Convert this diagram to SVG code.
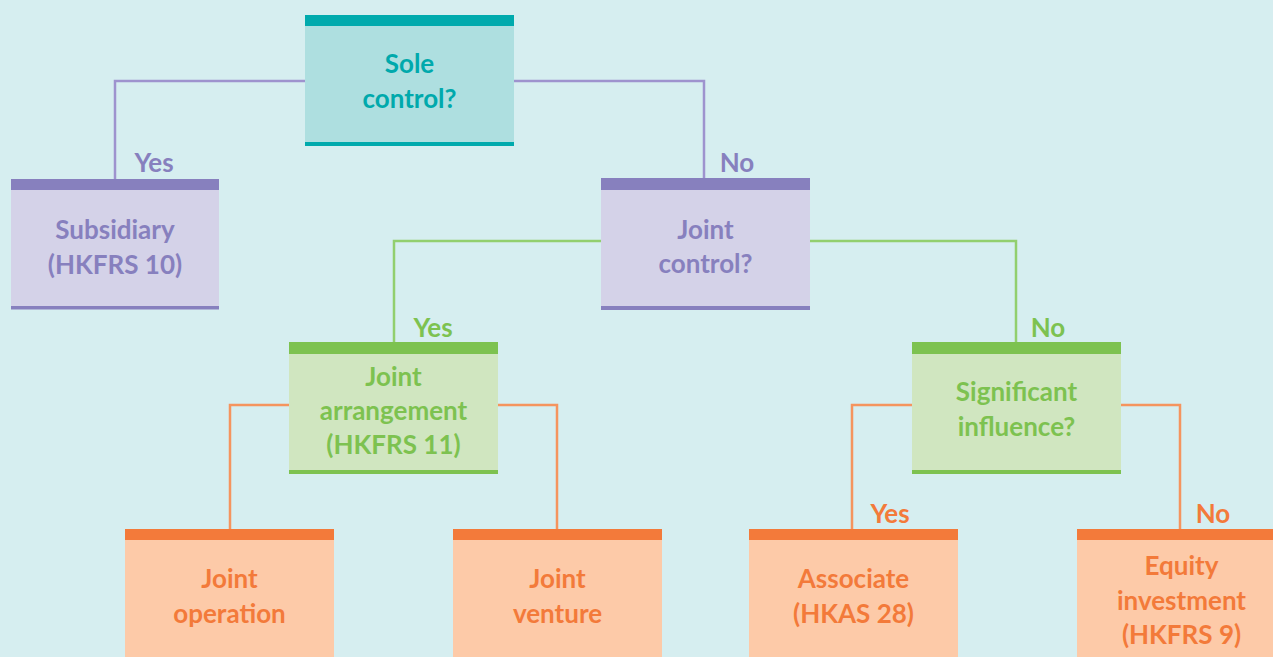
<svg xmlns="http://www.w3.org/2000/svg" width="1273" height="657" viewBox="0 0 1273 657">
<style>
text{font-family:Lato,"Open Sans","Liberation Sans",sans-serif;font-weight:700;font-size:26px;text-anchor:middle}
.tl{fill:#00A9AC}.pl{fill:#8780BE}.gl{fill:#7DC250}.ol{fill:#F37A3A}
.tf{fill:#AEDFE0}.pf{fill:#D4D2E8}.gf{fill:#D0E6C0}.of{fill:#FDCAA8}
.tb{fill:#00AAAD}.pb{fill:#8780BE}.gb{fill:#7DC250}.ob{fill:#F37A3A}
.cp{fill:none;stroke:#9E93CE;stroke-width:2.5}
.cg{fill:none;stroke:#92CF6E;stroke-width:2.5}
.co{fill:none;stroke:#F5945E;stroke-width:2.5}
</style>
<rect width="1273" height="657" fill="#D6EEF0"/>
<g id="connectors">
<polyline class="cp" points="305,81 115,81 115,179"/>
<polyline class="cp" points="514,81 704,81 704,179"/>
<polyline class="cg" points="601,241 394,241 394,342"/>
<polyline class="cg" points="810,241 1016,241 1016,342"/>
<polyline class="co" points="289,405 230,405 230,529"/>
<polyline class="co" points="498,405 557,405 557,529"/>
<polyline class="co" points="912,405 852,405 852,529"/>
<polyline class="co" points="1121,405 1180,405 1180,529"/>
<text class="pl" x="154" y="172">Yes</text>
<text class="pl" x="737" y="172">No</text>
<text class="gl" x="433" y="337">Yes</text>
<text class="gl" x="1048" y="337">No</text>
<text class="ol" x="890" y="523">Yes</text>
<text class="ol" x="1213" y="523">No</text>
</g>
<g id="sole">
<rect class="tf" x="305" y="15" width="209" height="131"/>
<rect class="tb" x="305" y="15" width="209" height="11"/>
<rect class="tb" x="305" y="142" width="209" height="4"/>
<text class="tl" x="409.5" y="73">Sole</text>
<text class="tl" x="409.5" y="108">control?</text>
</g>
<g id="subsidiary">
<rect class="pf" x="11" y="179" width="208" height="130"/>
<rect class="pb" x="11" y="179" width="208" height="11"/>
<rect class="pb" x="11" y="306" width="208" height="3.5"/>
<text class="pl" x="115" y="239">Subsidiary</text>
<text class="pl" x="115" y="274">(HKFRS 10)</text>
</g>
<g id="jointcontrol">
<rect class="pf" x="601" y="178" width="209" height="132"/>
<rect class="pb" x="601" y="178" width="209" height="12"/>
<rect class="pb" x="601" y="306" width="209" height="4"/>
<text class="pl" x="705.5" y="239">Joint</text>
<text class="pl" x="705.5" y="273">control?</text>
</g>
<g id="jointarrangement">
<rect class="gf" x="289" y="342" width="209" height="132"/>
<rect class="gb" x="289" y="342" width="209" height="12"/>
<rect class="gb" x="289" y="470" width="209" height="4"/>
<text class="gl" x="393.5" y="386">Joint</text>
<text class="gl" x="393.5" y="420">arrangement</text>
<text class="gl" x="393.5" y="454">(HKFRS 11)</text>
</g>
<g id="significant">
<rect class="gf" x="912" y="342" width="209" height="132"/>
<rect class="gb" x="912" y="342" width="209" height="12"/>
<rect class="gb" x="912" y="470" width="209" height="4"/>
<text class="gl" x="1016.5" y="401">Significant</text>
<text class="gl" x="1016.5" y="436">influence?</text>
</g>
<g id="jointoperation">
<rect class="of" x="125" y="529" width="209" height="128"/>
<rect class="ob" x="125" y="529" width="209" height="11"/>
<text class="ol" x="229.5" y="588">Joint</text>
<text class="ol" x="229.5" y="623">operation</text>
</g>
<g id="jointventure">
<rect class="of" x="453" y="529" width="209" height="128"/>
<rect class="ob" x="453" y="529" width="209" height="11"/>
<text class="ol" x="557.5" y="588">Joint</text>
<text class="ol" x="557.5" y="623">venture</text>
</g>
<g id="associate">
<rect class="of" x="749" y="529" width="209" height="128"/>
<rect class="ob" x="749" y="529" width="209" height="11"/>
<text class="ol" x="853.5" y="588">Associate</text>
<text class="ol" x="853.5" y="623">(HKAS 28)</text>
</g>
<g id="equity">
<rect class="of" x="1077" y="529" width="209" height="128"/>
<rect class="ob" x="1077" y="529" width="209" height="11"/>
<text class="ol" x="1181.5" y="575">Equity</text>
<text class="ol" x="1181.5" y="610">investment</text>
<text class="ol" x="1181.5" y="644">(HKFRS 9)</text>
</g>
</svg>
